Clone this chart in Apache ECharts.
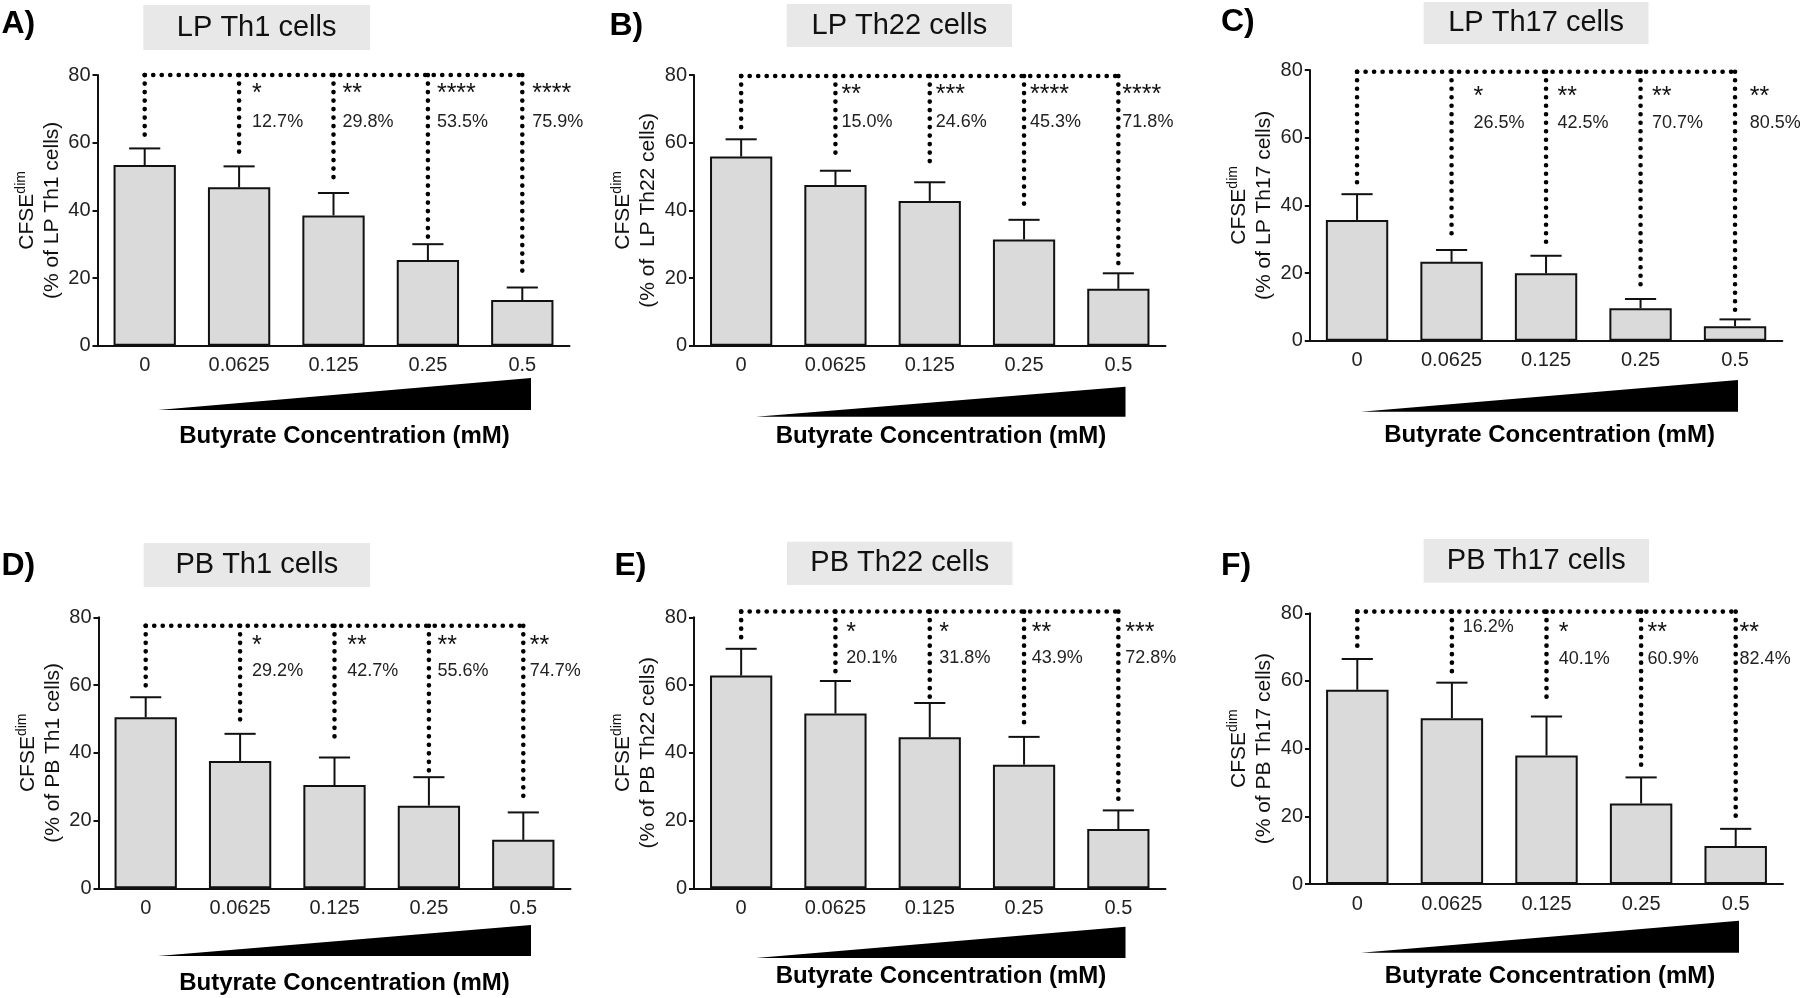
<!DOCTYPE html>
<html>
<head>
<meta charset="utf-8">
<script src="https://cdn.jsdelivr.net/npm/echarts@6/dist/echarts.min.js"></script>
<style>
html,body{margin:0;padding:0;background:#ffffff;}
#chart{width:1800px;height:998px;}
</style>
</head>
<body>
<div id="chart"></div>
<script>
// ---------------- DATA ----------------
const categories = ['0', '0.0625', '0.125', '0.25', '0.5'];
const panelLetters = ['A)', 'B)', 'C)', 'D)', 'E)', 'F)'];
const panelTitles = ['LP Th1 cells', 'LP Th22 cells', 'LP Th17 cells', 'PB Th1 cells', 'PB Th22 cells', 'PB Th17 cells'];
const yAxisSubtitles = ['(% of LP Th1 cells)', '(% of  LP Th22 cells)', '(% of LP Th17 cells)', '(% of PB Th1 cells)', '(% of PB Th22 cells)', '(% of PB Th17 cells)'];
const xAxisTitle = 'Butyrate Concentration (mM)';
const yTicks = [0, 20, 40, 60, 80];

// mean values (bar heights)
const meanLPTh1  = [53.4, 46.8, 38.5, 25.3, 13.5];
const meanLPTh22 = [55.9, 47.5, 42.8, 31.4, 16.8];
const meanLPTh17 = [35.7, 23.3, 19.9, 9.6, 4.3];
const meanPBTh1  = [50.5, 37.6, 30.5, 24.4, 14.3];
const meanPBTh22 = [62.8, 51.6, 44.6, 36.5, 17.5];
const meanPBTh17 = [57.4, 49.0, 38.0, 23.8, 11.2];

// upper end of the error bars (mean + SEM)
const errTopLPTh1  = [58.3, 53.0, 45.1, 30.0, 17.2];
const errTopLPTh22 = [61.0, 51.7, 48.3, 37.2, 21.4];
const errTopLPTh17 = [43.3, 26.8, 25.1, 12.3, 6.3];
const errTopPBTh1  = [56.4, 45.6, 38.6, 32.8, 22.4];
const errTopPBTh22 = [70.7, 61.2, 54.7, 44.7, 23.0];
const errTopPBTh17 = [66.5, 59.5, 49.5, 31.5, 16.3];

// significance stars and % inhibition versus 0 mM
const starsLPTh1  = ['', '*', '**', '****', '****'];
const starsLPTh22 = ['', '**', '***', '****', '****'];
const starsLPTh17 = ['', '*', '**', '**', '**'];
const starsPBTh1  = ['', '*', '**', '**', '**'];
const starsPBTh22 = ['', '*', '*', '**', '***'];
const starsPBTh17 = ['', '', '*', '**', '**'];

const pctLPTh1  = ['', '12.7%', '29.8%', '53.5%', '75.9%'];
const pctLPTh22 = ['', '15.0%', '24.6%', '45.3%', '71.8%'];
const pctLPTh17 = ['', '26.5%', '42.5%', '70.7%', '80.5%'];
const pctPBTh1  = ['', '29.2%', '42.7%', '55.6%', '74.7%'];
const pctPBTh22 = ['', '20.1%', '31.8%', '43.9%', '72.8%'];
const pctPBTh17 = ['', '16.2%', '40.1%', '60.9%', '82.4%'];

// lower ends of the dotted comparison brackets (axis values)
const bracketEndLPTh1  = [61.6, 56.4, 48.5, 31.6, 19.8];
const bracketEndLPTh22 = [63.7, 55.9, 52.4, 40.1, 24.3];
const bracketEndLPTh17 = [45.2, 31.2, 27.8, 15.0, 9.1];
const bracketEndPBTh1  = [58.1, 49.7, 42.5, 34.4, 26.1];
const bracketEndPBTh22 = [73.8, 63.0, 56.1, 48.7, 24.6];
const bracketEndPBTh17 = [69.6, 60.8, 52.9, 35.2, 18.7];

const means = [meanLPTh1, meanLPTh22, meanLPTh17, meanPBTh1, meanPBTh22, meanPBTh17];
const errTops = [errTopLPTh1, errTopLPTh22, errTopLPTh17, errTopPBTh1, errTopPBTh22, errTopPBTh17];
const stars = [starsLPTh1, starsLPTh22, starsLPTh17, starsPBTh1, starsPBTh22, starsPBTh17];
const pcts = [pctLPTh1, pctLPTh22, pctLPTh17, pctPBTh1, pctPBTh22, pctPBTh17];
const bracketEnds = [bracketEndLPTh1, bracketEndLPTh22, bracketEndLPTh17, bracketEndPBTh1, bracketEndPBTh22, bracketEndPBTh17];

// ---------------- LAYOUT ----------------
const layouts = [
  {grid:[97.5, 75, 472, 270.7],   letter:[1.5, 24],    box:[143.3, 5, 226.7, 45],   tri:[158, 531, 410, 378],     xTitle:[344.5, 436.7], bracketLevel:80,   starLevel:76.1, pctLevel:66.2, textOff:[0,13,9,9,10]},
  {grid:[694, 75, 471.5, 270.7],  letter:[609.5, 26],  box:[786.7, 4, 225.3, 43],   tri:[756, 1125.5, 416.7, 386.7], xTitle:[941, 436.7], bracketLevel:79.7, starLevel:75.8, pctLevel:66.2, textOff:[0,6,6,6,4]},
  {grid:[1309.8, 70, 472.5, 270.7], letter:[1221, 22], box:[1423.6, 2, 224.9, 42],  tri:[1361, 1738, 411.7, 380],  xTitle:[1549.6, 435], bracketLevel:79.5, starLevel:73.9, pctLevel:64.2, textOff:[0,22,11.5,11.5,14.6]},
  {grid:[98.5, 617.3, 472, 271],  letter:[1.5, 566.5], box:[143.6, 543, 226.4, 44], tri:[158, 531, 956, 925],     xTitle:[344.5, 983], bracketLevel:77.5, starLevel:73.3, pctLevel:64.0, textOff:[0,12,12.7,8.5,6.5]},
  {grid:[694, 617.3, 471.5, 271], letter:[614.5, 566], box:[787, 541.7, 225.5, 43.3], tri:[756, 1125.5, 958, 926.7], xTitle:[941, 976.7], bracketLevel:81.7, starLevel:77.1, pctLevel:67.9, textOff:[0,10.8,9.6,7.7,6.9]},
  {grid:[1310, 613.3, 473, 270.7], letter:[1221, 566], box:[1423.6, 539, 225.4, 43.7], tri:[1361, 1739, 952.7, 920.7], xTitle:[1550, 976.7], bracketLevel:80.5, starLevel:75.9, pctLevel:66.6, textOff:[0,10.8,12.3,6.5,3.9]}
];

const FONT = "'Liberation Sans', Arial, Helvetica, sans-serif";
const INK = '#111111';
const dotStyle = {stroke: '#000', lineWidth: 4.6, lineDash: [0.1, 8.4], lineCap: 'round', fill: null};

const chart = echarts.init(document.getElementById('chart'), null, {renderer: 'canvas'});

const grids = [], xAxes = [], yAxes = [], series = [], graphics = [];

layouts.forEach((L, p) => {
  grids.push({left: L.grid[0], top: L.grid[1], width: L.grid[2], height: L.grid[3], containLabel: false});

  xAxes.push({
    gridIndex: p, type: 'category', data: categories,
    axisLine: {lineStyle: {color: INK, width: 2}},
    axisTick: {alignWithLabel: true, length: 5, lineStyle: {color: INK, width: 2}},
    axisLabel: {fontSize: 20, color: '#222', margin: 10, fontFamily: FONT},
    splitLine: {show: false}
  });

  yAxes.push({
    gridIndex: p, type: 'value', min: yTicks[0], max: yTicks[yTicks.length - 1], interval: yTicks[1] - yTicks[0],
    axisLine: {show: true, lineStyle: {color: INK, width: 2}},
    axisTick: {show: true, length: 5, lineStyle: {color: INK, width: 2}},
    axisLabel: {fontSize: 20, color: '#222', margin: 7, fontFamily: FONT},
    splitLine: {show: false},
    name: 'CFSE{sup|dim}\n' + yAxisSubtitles[p],
    nameLocation: 'middle', nameRotate: 90, nameGap: 27,
    nameTextStyle: {
      fontSize: 21, color: INK, fontFamily: FONT, lineHeight: 25,
      rich: {sup: {fontSize: 14, fontFamily: FONT, color: INK, lineHeight: 25, padding: [0, 0, 12, 0]}}
    }
  });

  // bars
  series.push({
    type: 'bar', xAxisIndex: p, yAxisIndex: p, data: means[p], barWidth: '66%',
    itemStyle: {color: '#dadada', borderColor: INK, borderWidth: 2},
    silent: true, z: 2, animation: false
  });

  // error bars (upper only)
  series.push({
    type: 'custom', xAxisIndex: p, yAxisIndex: p, z: 3, silent: true, animation: false, clip: false,
    encode: {x: 0, y: 1},
    data: means[p].map((m, i) => [i, errTops[p][i], m]),
    renderItem: function (params, api) {
      const x = api.value(0);
      const pMean = api.coord([x, api.value(2)]);
      const pTop = api.coord([x, api.value(1)]);
      const half = api.size([1, 0])[0] * 0.165;
      const st = {stroke: INK, lineWidth: 2};
      return {type: 'group', children: [
        {type: 'line', shape: {x1: pMean[0], y1: pMean[1], x2: pTop[0], y2: pTop[1]}, style: st},
        {type: 'line', shape: {x1: pTop[0] - half, y1: pTop[1], x2: pTop[0] + half, y2: pTop[1]}, style: st}
      ]};
    }
  });

  // dotted comparison brackets
  series.push({
    type: 'custom', xAxisIndex: p, yAxisIndex: p, z: 4, silent: true, animation: false, clip: false,
    encode: {x: 0, y: 1},
    data: bracketEnds[p].map((e, i) => [i, e]),
    renderItem: function (params, api) {
      const i = api.value(0);
      const top = api.coord([i, L.bracketLevel]);
      const bot = api.coord([i, api.value(1)]);
      const children = [{type: 'line', shape: {x1: top[0], y1: top[1], x2: bot[0], y2: bot[1]}, style: dotStyle}];
      if (params.dataIndex === 0) {
        const right = api.coord([categories.length - 1, L.bracketLevel]);
        children.push({type: 'line', shape: {x1: top[0], y1: top[1], x2: right[0], y2: right[1]}, style: dotStyle});
      }
      return {type: 'group', children: children};
    }
  });

  // annotation text (stars and % inhibition)
  series.push({
    type: 'custom', xAxisIndex: p, yAxisIndex: p, z: 5, silent: true, animation: false, clip: false,
    encode: {x: 0, y: 1},
    data: categories.map((c, i) => [i, L.pctLevel]),
    renderItem: function (params, api) {
      const i = params.dataIndex;
      const s = stars[p][i], t = pcts[p][i];
      const children = [];
      const ps = api.coord([i, L.starLevel]);
      const pp = api.coord([i, s ? L.pctLevel : L.starLevel]);
      const off = L.textOff[i];
      if (s) children.push({type: 'text', style: {text: s, x: ps[0] + off, y: ps[1] + 6, fill: '#111', font: '25px ' + FONT, align: 'left', verticalAlign: 'middle'}});
      if (t) children.push({type: 'text', style: {text: t, x: pp[0] + off, y: pp[1], fill: '#222', font: '18px ' + FONT, align: 'left', verticalAlign: 'middle'}});
      return {type: 'group', children: children};
    }
  });

  // decorations: title box, panel letter, gradient wedge, x-axis title
  graphics.push({type: 'rect', shape: {x: L.box[0], y: L.box[1], width: L.box[2], height: L.box[3]}, style: {fill: '#e8e8e8'}, silent: true});
  graphics.push({type: 'text', style: {text: panelTitles[p], x: L.box[0] + L.box[2] / 2, y: L.box[1] + L.box[3] / 2, fill: INK, font: '29px ' + FONT, align: 'center', verticalAlign: 'middle'}, silent: true});
  graphics.push({type: 'text', style: {text: panelLetters[p], x: L.letter[0], y: L.letter[1], fill: '#000', font: 'bold 32px ' + FONT, align: 'left', verticalAlign: 'middle'}, silent: true});
  graphics.push({type: 'polygon', shape: {points: [[L.tri[0], L.tri[2]], [L.tri[1], L.tri[2]], [L.tri[1], L.tri[3]]]}, style: {fill: '#000'}, silent: true});
  graphics.push({type: 'text', style: {text: xAxisTitle, x: L.xTitle[0], y: L.xTitle[1], fill: '#000', font: 'bold 24px ' + FONT, align: 'center', verticalAlign: 'middle'}, silent: true});
});

chart.setOption({
  backgroundColor: '#ffffff',
  animation: false,
  textStyle: {fontFamily: FONT},
  grid: grids,
  xAxis: xAxes,
  yAxis: yAxes,
  series: series,
  graphic: {elements: graphics}
});
</script>
</body>
</html>
